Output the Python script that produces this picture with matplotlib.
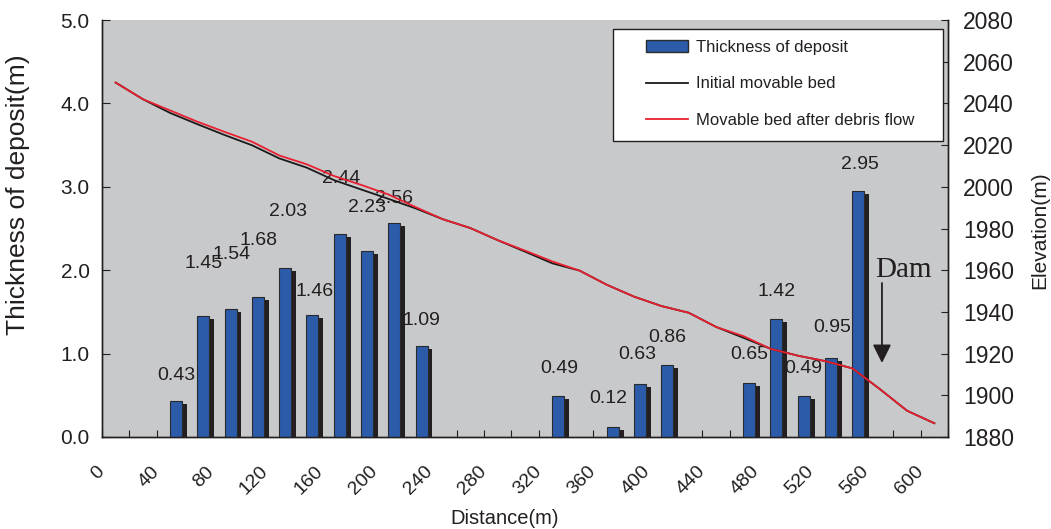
import matplotlib
matplotlib.use("Agg")
import matplotlib.pyplot as plt
from matplotlib.patches import Rectangle, Patch
import numpy as np

plt.rcParams['font.family'] = ['Liberation Sans', 'DejaVu Sans']

# ---- data ----
bar_dist = [60, 80, 100, 120, 140, 160, 180, 200, 220, 240,
            340, 380, 400, 420, 480, 500, 520, 540, 560]
thickness = [0.43, 1.45, 1.54, 1.68, 2.03, 1.46, 2.44, 2.23, 2.56, 1.09,
             0.49, 0.12, 0.63, 0.86, 0.65, 1.42, 0.49, 0.95, 2.95]

line_dist = [10, 30, 50, 70, 90, 110, 130, 150, 170, 190, 210, 230, 250, 270,
             290, 310, 330, 350, 370, 390, 410, 430, 450, 470, 490, 510, 530,
             550, 570, 590, 610]
elev_initial = [2050.0, 2042.0, 2035.4, 2030.0, 2024.8, 2019.9, 2013.6, 2009.2,
                2003.2, 1998.7, 1994.2, 1989.6, 1984.4, 1980.2, 1974.4, 1968.9,
                1963.3, 1959.8, 1953.0, 1947.3, 1942.8, 1939.6, 1932.8, 1927.6,
                1922.3, 1919.0, 1916.4, 1912.9, 1903.0, 1892.6, 1886.6]
elev_after = [2050.0, 2042.0, 2036.6, 2031.2, 2026.3, 2021.6, 2015.0, 2010.8,
              2005.2, 2000.9, 1996.3, 1990.2, 1984.4, 1980.2, 1974.4, 1969.4,
              1964.2, 1959.8, 1953.0, 1947.3, 1942.8, 1939.6, 1932.8, 1928.4,
              1922.3, 1919.0, 1916.4, 1912.9, 1903.0, 1892.6, 1886.6]

x_ticks = list(range(0, 621, 20))
x_labels = [str(v) if (v % 40 == 0 and v <= 600) else '' for v in x_ticks]
left_ticks = [0.0, 1.0, 2.0, 3.0, 4.0, 5.0]
right_ticks = list(range(1880, 2081, 20))

# label placement (pixel offsets from the top of each bar)
label_dy = [26, 53, 54, 56, 56, 24, 55, 44, 25, 26,
            28, 28, 30, 28, 28, 27, 28, 30, 26]
label_dx = [0, 0, 1, 1, 3, 2, 1, 0, 0, 0,
            1, -4, -3, 0, 0, 0, 0, 1, 2]

# ---- styling ----
W, H = 1051, 529
BLUE = '#2B5BA9'
SHADOW = '#231F20'
BG = '#C8C9CB'
RED = '#E8202F'
BLACK = '#1A1A1A'
INK = '#231F20'

fig = plt.figure(figsize=(W / 100, H / 100), dpi=100)
ax = fig.add_axes([102 / W, 92 / H, 846 / W, 417 / H])
ax.set_facecolor(BG)
ax2 = ax.twinx()

bx = np.array(bar_dist, dtype=float)
bv = np.array(thickness)

# drop shadow behind each bar
ax.bar(bx - 7.0, bv - 0.036, width=9.2, align='edge', color=SHADOW,
       edgecolor='none', zorder=2)
ax.bar(bx - 10.2, bv, width=8.8, align='edge', color=BLUE,
       edgecolor='#2a2a2a', linewidth=0.8, zorder=3)

for x, v, dx, dy in zip(bx, bv, label_dx, label_dy):
    ax.annotate(f'{v:.2f}', xy=(x - 5.8, v), xytext=(dx, dy),
                textcoords='offset pixels', ha='center', va='center',
                fontsize=14, color=INK, zorder=5)

ax.set_xlim(0, 620)
ax.set_ylim(0, 5)
ax.set_xticks(x_ticks)
ax.set_xticklabels(x_labels, rotation=45, ha='right', va='center',
                   rotation_mode='anchor', fontsize=14)
ax.tick_params(axis='x', direction='in', length=5, width=0.8, pad=23,
               colors=INK)
ax.set_yticks(left_ticks)
ax.set_yticklabels([f'{v:.1f}' for v in left_ticks], fontsize=15)
ax.tick_params(axis='y', direction='in', length=6, width=0.8, pad=9,
               colors=INK)

ln1, = ax2.plot(line_dist, elev_initial, color=BLACK, lw=1.3,
                label='Initial movable bed', zorder=3)
ln2, = ax2.plot(line_dist, elev_after, color=RED, lw=1.3,
                label='Movable bed after debris flow', zorder=4)
ax2.set_ylim(1880, 2080)
ax2.set_yticks(right_ticks)
ax2.set_yticklabels([str(v) for v in right_ticks], fontsize=16.5)
ax2.tick_params(axis='y', direction='in', length=5, width=0.8, pad=11,
                colors=INK)

for a in (ax, ax2):
    a.spines['top'].set_visible(False)
    for s in ('left', 'right', 'bottom'):
        a.spines[s].set_color(INK)
        a.spines[s].set_linewidth(1.0)

# dam marker
ax2.text(587.5, 1960, 'Dam', family=['Liberation Serif', 'DejaVu Serif'],
         fontsize=21, ha='center', va='center', color=INK)
ax2.annotate('', xy=(571.6, 1880 + 74 / 2.085), xytext=(571.6, 1880 + 154 / 2.085),
             arrowprops=dict(arrowstyle='-|>', color=INK, lw=1.3,
                             mutation_scale=28, shrinkA=0, shrinkB=0),
             zorder=6)

# legend with a plain white box
box = Rectangle((612.7 / W, 1 - 140.7 / H), (943.3 - 612.7) / W,
                (140.7 - 29.3) / H, transform=fig.transFigure,
                facecolor='white', edgecolor=INK, linewidth=1.0,
                clip_on=False, zorder=9)
ax2.add_patch(box)
handles = [Patch(facecolor=BLUE, edgecolor='#2a2a2a', linewidth=1.0), ln1, ln2]
labels = ['Thickness of deposit', 'Initial movable bed',
          'Movable bed after debris flow']
leg = ax2.legend(handles, labels,
                 loc='upper left', bbox_to_anchor=(646 / W, 1 - 40 / H),
                 bbox_transform=fig.transFigure, frameon=False, fontsize=12,
                 borderpad=0, borderaxespad=0, handlelength=2.5,
                 handleheight=0.7, handletextpad=0.5, labelspacing=1.28)
leg.set_zorder(11)
for t in leg.get_texts():
    t.set_color(INK)

fig.text(18 / W, 1 - 195 / H, 'Thickness of deposit(m)', rotation=90,
         ha='center', va='center', fontsize=19, color=INK)
fig.text(1040 / W, 1 - 230 / H, 'Elevation(m)', rotation=90,
         ha='center', va='center', fontsize=15, color=INK)
fig.text(505 / W, 1 - 518 / H, 'Distance(m)', ha='center', va='center',
         fontsize=14.5, color=INK)

fig.savefig('out.png', dpi=100, facecolor='white')
